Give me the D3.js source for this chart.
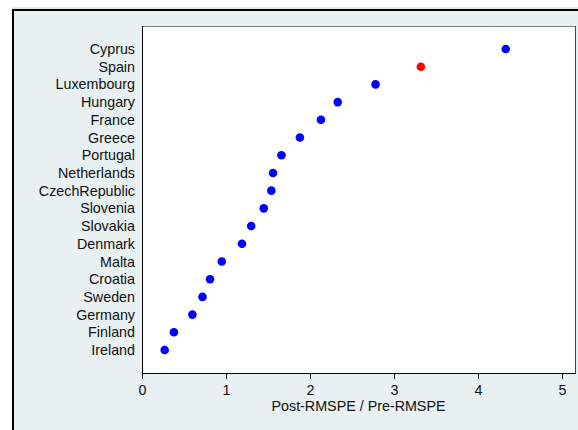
<!DOCTYPE html>
<html>
<head>
<meta charset="utf-8">
<script src="https://cdn.jsdelivr.net/npm/d3@7"></script>
<style>
  body { margin: 0; background: #fff; }
  text { font-family: "Liberation Sans", Arial, sans-serif; }
</style>
</head>
<body>
<div id="chart"></div>
<script>
const countries = ["Cyprus", "Spain", "Luxembourg", "Hungary", "France", "Greece", "Portugal",
  "Netherlands", "CzechRepublic", "Slovenia", "Slovakia", "Denmark", "Malta", "Croatia",
  "Sweden", "Germany", "Finland", "Ireland"];
const ratios = [4.33, 3.32, 2.78, 2.33, 2.13, 1.88, 1.66, 1.56, 1.54, 1.45, 1.30, 1.19,
  0.95, 0.81, 0.72, 0.60, 0.38, 0.27];
const highlight = "Spain";
const xTicks = [0, 1, 2, 3, 4, 5];

const width = 578, height = 430;
const plot = { left: 142, top: 26, right: 575, bottom: 373 };
const fontSize = 14.3;

const svg = d3.select("#chart").append("svg")
  .attr("width", width)
  .attr("height", height);

// outer panel
svg.append("rect")
  .attr("x", 13).attr("y", 10)
  .attr("width", width).attr("height", height)
  .attr("fill", "#e8f0f2")
  .attr("stroke", "#000")
  .attr("stroke-width", 2);
svg.append("line")
  .attr("x1", 12).attr("x2", width).attr("y1", 8).attr("y2", 8)
  .attr("stroke", "#ccc");

// plot area
svg.append("rect")
  .attr("x", plot.left).attr("y", plot.top)
  .attr("width", plot.right - plot.left).attr("height", plot.bottom - plot.top)
  .attr("fill", "#fff");
svg.append("line")
  .attr("x1", plot.left).attr("x2", plot.right)
  .attr("y1", plot.top + 0.5).attr("y2", plot.top + 0.5)
  .attr("stroke", "#808080");
svg.append("line")
  .attr("x1", plot.right + 0.5).attr("x2", plot.right + 0.5)
  .attr("y1", plot.top).attr("y2", plot.bottom)
  .attr("stroke", "#404040");

const x = d3.scaleLinear()
  .domain([0, (plot.right - plot.left) / 84])
  .range([plot.left, plot.right]);

const y = d3.scalePoint()
  .domain(countries)
  .range([49, 350]);

// x axis
const xAxis = svg.append("g")
  .attr("transform", `translate(0,${plot.bottom})`)
  .call(d3.axisBottom(x).tickValues(xTicks).tickFormat(d3.format("d")).tickSize(6).tickSizeOuter(0));
xAxis.select(".domain").attr("stroke", "#000").attr("d", `M${plot.left},0.5H${plot.right + 1}`);
xAxis.selectAll(".tick line").attr("stroke", "#000");
xAxis.selectAll(".tick text")
  .attr("fill", "#111")
  .attr("font-size", fontSize)
  .attr("dy", "0.71em")
  .attr("y", 12);

// y axis
const yAxis = svg.append("g")
  .attr("transform", `translate(${plot.left},0)`)
  .call(d3.axisLeft(y).tickSize(0).tickPadding(7));
yAxis.select(".domain").attr("stroke", "#000").attr("d", `M0.5,${plot.top}V${plot.bottom}`);
yAxis.selectAll(".tick text")
  .attr("fill", "#111")
  .attr("font-size", fontSize);

// axis title
svg.append("text")
  .attr("x", (plot.left + plot.right) / 2)
  .attr("y", 411)
  .attr("text-anchor", "middle")
  .attr("font-size", fontSize)
  .attr("fill", "#111")
  .text("Post-RMSPE / Pre-RMSPE");

// dots
svg.append("g")
  .selectAll("circle")
  .data(countries)
  .enter()
  .append("circle")
  .attr("cx", (d, i) => x(ratios[i]))
  .attr("cy", (d) => y(d))
  .attr("r", 4.3)
  .attr("fill", (d) => d === highlight ? "#ff0000" : "#0000ff");
</script>
</body>
</html>
